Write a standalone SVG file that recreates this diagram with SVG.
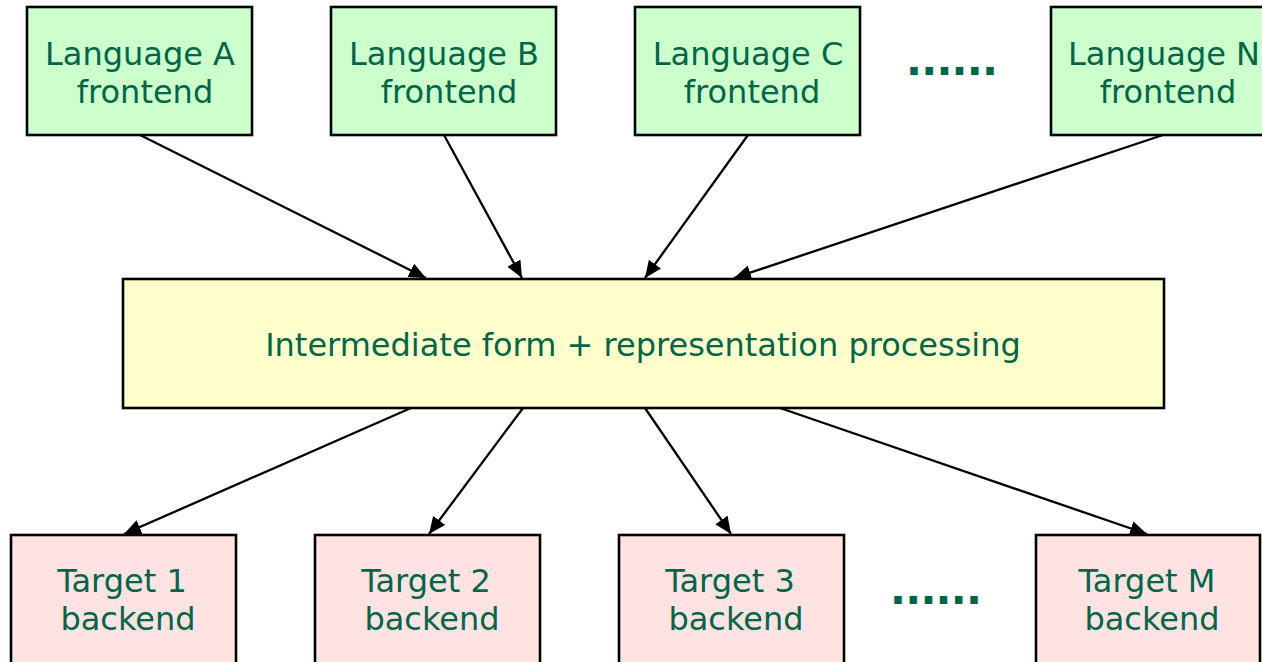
<svg xmlns="http://www.w3.org/2000/svg" width="1262" height="662" viewBox="0 0 1262 662">
  <style>
    .box { stroke: #000; stroke-width: 2.6; }
    .front { fill: #ccffcc; }
    .mid { fill: #ffffcc; }
    .back { fill: #ffe3e3; }
    .lbl { font-family: "DejaVu Sans", Verdana, sans-serif; font-size: 32px; fill: #006647; text-anchor: middle; }
    .dots { font-family: "DejaVu Sans", Verdana, sans-serif; font-size: 42px; font-weight: bold; fill: #006647; }
    .edge { stroke: #000; stroke-width: 2.3; fill: none; marker-end: url(#arrow); }
  </style>
  <defs>
    <marker id="arrow" markerUnits="userSpaceOnUse" markerWidth="20" markerHeight="16" refX="17" refY="7.5" orient="auto">
      <path d="M0,0 L17,7.5 L0,15 z" fill="#000"/>
    </marker>
  </defs>

  <!-- frontends -->
  <g id="frontA">
    <rect class="box front" x="27" y="7" width="225" height="128"/>
    <text class="lbl" x="140" y="65">Language A</text>
    <text class="lbl" x="145" y="103">frontend</text>
  </g>
  <g id="frontB">
    <rect class="box front" x="331" y="7" width="225" height="128"/>
    <text class="lbl" x="444" y="65">Language B</text>
    <text class="lbl" x="449" y="103">frontend</text>
  </g>
  <g id="frontC">
    <rect class="box front" x="635" y="7" width="225" height="128"/>
    <text class="lbl" x="748" y="65">Language C</text>
    <text class="lbl" x="752" y="103">frontend</text>
  </g>
  <g id="frontDots">
    <text class="dots" x="906" y="75" textLength="92" lengthAdjust="spacing">......</text>
  </g>
  <g id="frontN">
    <rect class="box front" x="1051" y="7" width="225" height="128"/>
    <text class="lbl" x="1164" y="65">Language N</text>
    <text class="lbl" x="1168" y="103">frontend</text>
  </g>

  <!-- shared middle stage -->
  <g id="middle">
    <rect class="box mid" x="123" y="279" width="1041" height="129"/>
    <text class="lbl" x="643" y="356">Intermediate form + representation processing</text>
  </g>

  <!-- backends -->
  <g id="back1">
    <rect class="box back" x="11" y="535" width="225" height="140"/>
    <text class="lbl" x="122" y="592">Target 1</text>
    <text class="lbl" x="128" y="630">backend</text>
  </g>
  <g id="back2">
    <rect class="box back" x="315" y="535" width="225" height="140"/>
    <text class="lbl" x="426" y="592">Target 2</text>
    <text class="lbl" x="432" y="630">backend</text>
  </g>
  <g id="back3">
    <rect class="box back" x="619" y="535" width="225" height="140"/>
    <text class="lbl" x="730" y="592">Target 3</text>
    <text class="lbl" x="736" y="630">backend</text>
  </g>
  <g id="backDots">
    <text class="dots" x="890" y="604" textLength="92" lengthAdjust="spacing">......</text>
  </g>
  <g id="backM">
    <rect class="box back" x="1036" y="535" width="224" height="140"/>
    <text class="lbl" x="1147" y="592">Target M</text>
    <text class="lbl" x="1152" y="630">backend</text>
  </g>

  <!-- connectors -->
  <g id="connectors">
    <line class="edge" x1="140" y1="135" x2="426" y2="278"/>
    <line class="edge" x1="444" y1="135" x2="522" y2="278"/>
    <line class="edge" x1="748" y1="135" x2="645" y2="278"/>
    <line class="edge" x1="1163" y1="135" x2="734" y2="278"/>
    <line class="edge" x1="411" y1="408" x2="124" y2="534"/>
    <line class="edge" x1="523" y1="408" x2="429" y2="534"/>
    <line class="edge" x1="645" y1="408" x2="731" y2="534"/>
    <line class="edge" x1="780" y1="408" x2="1147" y2="534"/>
  </g>
</svg>
